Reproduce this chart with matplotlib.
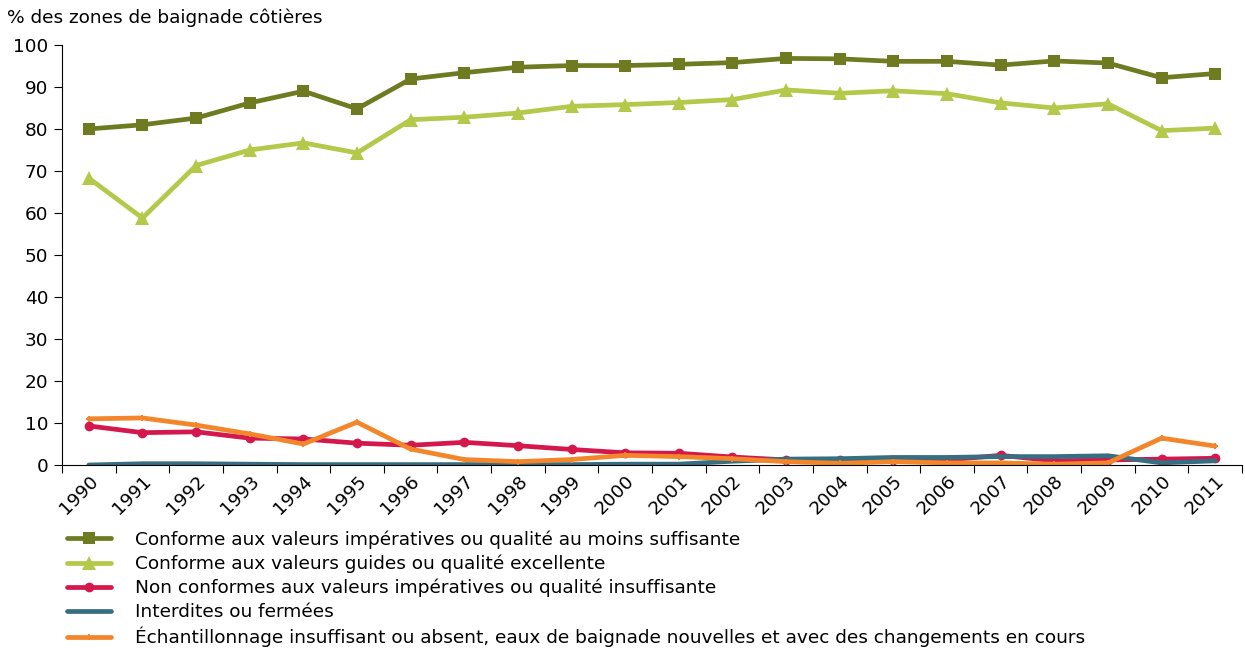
"""Zones de baignade côtières, conformité 1990-2011."""
import matplotlib
matplotlib.use("Agg")
import matplotlib.pyplot as plt

## DATA
## ====
years = [str(y) for y in range(1990, 2012)]

conforme_imperatives = [80.0, 81.0, 82.6, 86.2, 89.0, 84.8, 91.9, 93.4, 94.7, 95.1, 95.1, 95.4,
                        95.8, 96.8, 96.7, 96.1, 96.1, 95.2, 96.2, 95.7, 92.2, 93.2]
conforme_guides = [68.3, 58.8, 71.3, 75.0, 76.7, 74.3, 82.2, 82.8, 83.8, 85.4, 85.8, 86.3,
                   87.0, 89.3, 88.5, 89.1, 88.4, 86.2, 85.0, 86.0, 79.6, 80.2]
non_conformes = [9.3, 7.7, 7.9, 6.4, 6.2, 5.2, 4.7, 5.4, 4.6, 3.7, 2.9, 2.8,
                 1.9, 1.2, 1.3, 1.2, 1.2, 2.3, 1.0, 1.2, 1.4, 1.6]
interdites = [0.0, 0.3, 0.3, 0.2, 0.1, 0.1, 0.1, 0.1, 0.1, 0.1, 0.2, 0.2,
              0.9, 1.4, 1.5, 1.8, 1.8, 2.0, 2.0, 2.2, 0.5, 1.0]
echantillonnage = [11.0, 11.2, 9.5, 7.4, 5.0, 10.2, 3.8, 1.3, 0.8, 1.3, 2.3, 2.0,
                   1.5, 0.8, 0.4, 0.8, 0.5, 0.5, 0.2, 0.5, 6.4, 4.5]

labels = [
    "Conforme aux valeurs impératives ou qualité au moins suffisante",
    "Conforme aux valeurs guides ou qualité excellente",
    "Non conformes aux valeurs impératives ou qualité insuffisante",
    "Interdites ou fermées",
    "Échantillonnage insuffisant ou absent, eaux de baignade nouvelles et avec des changements en cours",
]

## PLOT
## ====
plt.rcParams['font.family'] = ['DejaVu Sans']
FS = 13.3
fig = plt.figure(figsize=(12.45, 6.48), dpi=100)
ax = fig.add_axes([0.0498, 0.2824, 0.9478, 0.6482])

x = list(range(len(years)))
series = [
    (conforme_imperatives, '#6E7B21', 's', 8),
    (conforme_guides, '#B4C84A', '^', 10),
    (non_conformes, '#D4174C', 'o', 7),
    (interdites, '#376F82', None, 0),
    (echantillonnage, '#F3862A', 'P', 5),
]
for (vals, col, mk, ms), lab in zip(series, labels):
    ax.plot(x, vals, color=col, lw=3.4, marker=mk, markersize=ms,
            markeredgewidth=0, label=lab, solid_capstyle='round')

ax.set_xlim(-0.5, len(years) - 0.5)
ax.set_ylim(0, 100)
ax.set_yticks(range(0, 101, 10))
ax.set_xticks([i - 0.5 for i in range(len(years) + 1)])
ax.set_xticklabels([])
ax.set_xticks(x, minor=True)
ax.set_xticklabels(years, minor=True, rotation=45, ha='right', va='top',
                   rotation_mode='anchor', fontsize=FS)
ax.tick_params(axis='x', which='minor', length=0, pad=5)
ax.tick_params(axis='x', which='major', length=6, direction='out')
ax.tick_params(axis='y', length=6, direction='out', labelsize=FS, pad=4)
for s in ['top', 'right']:
    ax.spines[s].set_visible(False)

fig.text(0.006, 0.972, "% des zones de baignade côtières", fontsize=FS, va='center')

fig.legend(loc='upper left', bbox_to_anchor=(0.048, 0.193), frameon=False,
           fontsize=FS, handlelength=2.4, handletextpad=1.3, labelspacing=0.31,
           borderaxespad=0)

fig.savefig('out.png', dpi=100)
